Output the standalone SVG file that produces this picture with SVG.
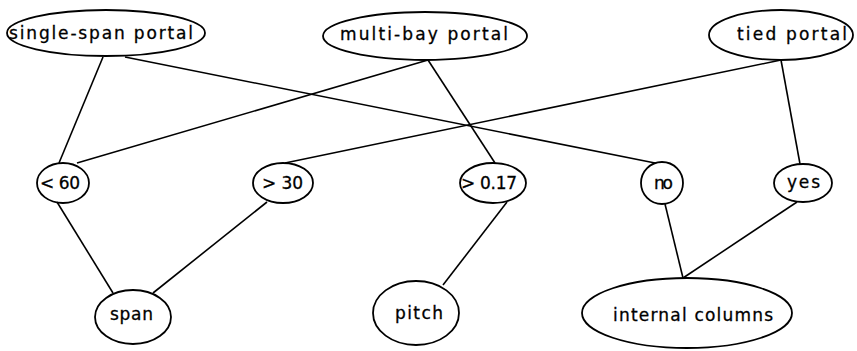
<svg xmlns="http://www.w3.org/2000/svg" width="857" height="351" viewBox="0 0 857 351">
<style>
ellipse{fill:none;stroke:#000;stroke-width:1.8}
line{stroke:#000;stroke-width:1.6}
text{font-family:"DejaVu Sans","Liberation Sans",sans-serif;font-size:17px;fill:#000;stroke:#000;stroke-width:0.3}
</style>
<rect width="857" height="351" fill="#fff"/>
<g id="connectors">
<line x1="103" y1="57" x2="59" y2="163"/>
<line x1="125" y1="57" x2="655" y2="163"/>
<line x1="428" y1="60" x2="77" y2="163"/>
<line x1="428" y1="60" x2="495" y2="163"/>
<line x1="781" y1="60" x2="285" y2="163"/>
<line x1="781" y1="60" x2="800" y2="164"/>
<line x1="57" y1="202" x2="113" y2="293"/>
<line x1="267" y1="202" x2="153" y2="293"/>
<line x1="507" y1="202" x2="443" y2="285"/>
<line x1="665" y1="204" x2="683" y2="278"/>
<line x1="797" y1="202" x2="683" y2="278"/>
</g>
<g id="single-span"><ellipse cx="106" cy="33" rx="99" ry="23"/><text x="9" y="39" textLength="184" lengthAdjust="spacing">single-span portal</text></g>
<g id="multi-bay"><ellipse cx="425" cy="36" rx="102" ry="24"/><text x="340" y="40" textLength="168" lengthAdjust="spacing">multi-bay portal</text></g>
<g id="tied"><ellipse cx="781" cy="35" rx="72" ry="25"/><text x="737" y="40" textLength="110" lengthAdjust="spacing">tied portal</text></g>
<g id="lt60"><ellipse cx="63" cy="183" rx="26" ry="20"/><text x="40" y="189" textLength="40" lengthAdjust="spacing">&lt; 60</text></g>
<g id="gt30"><ellipse cx="283" cy="183" rx="30" ry="20"/><text x="262" y="189" textLength="41" lengthAdjust="spacing">&gt; 30</text></g>
<g id="gt017"><ellipse cx="493" cy="183" rx="33" ry="20"/><text x="461" y="189" textLength="56" lengthAdjust="spacing">&gt; 0.17</text></g>
<g id="no"><ellipse cx="662" cy="183" rx="21" ry="21"/><text x="654" y="189" textLength="19" lengthAdjust="spacing">no</text></g>
<g id="yes"><ellipse cx="803" cy="183" rx="29" ry="19"/><text x="787" y="188" textLength="33" lengthAdjust="spacing">yes</text></g>
<g id="span"><ellipse cx="133" cy="317" rx="38" ry="27"/><text x="110" y="320" textLength="43" lengthAdjust="spacing">span</text></g>
<g id="pitch"><ellipse cx="416" cy="313" rx="43" ry="32"/><text x="395" y="319" textLength="48" lengthAdjust="spacing">pitch</text></g>
<g id="internal-columns"><ellipse cx="687" cy="313" rx="105" ry="35"/><text x="613" y="321" textLength="160" lengthAdjust="spacing">internal columns</text></g>
</svg>
